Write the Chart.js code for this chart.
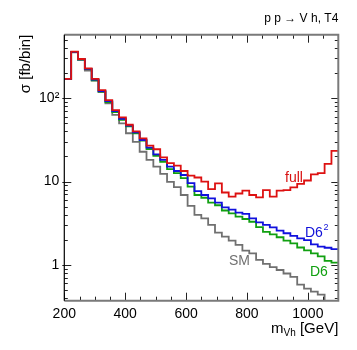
<!DOCTYPE html>
<html>
<head>
<meta charset="utf-8">
<script src="https://cdn.jsdelivr.net/npm/chart.js@4.4.1/dist/chart.umd.min.js"></script>
<style>
  body { margin: 0; background: #fff; }
  #wrap { width: 357px; height: 350px; }
</style>
</head>
<body>
<div id="wrap"><canvas id="c" width="357" height="350"></canvas></div>
<script>
// ---------- histogram data: m_Vh bins (GeV) and sigma per bin (fb) ----------
const binEdges = [200, 222.5, 245, 267.5, 290, 312.5, 335, 357.5, 380, 402.5,
  425, 447.5, 470, 492.5, 515, 537.5, 560, 582.5, 605, 627.5,
  650, 672.5, 695, 717.5, 740, 762.5, 785, 807.5, 830, 852.5,
  875, 897.5, 920, 942.5, 965, 987.5, 1010, 1032.5, 1055, 1077.5, 1100];

const full = [170, 361, 295, 228, 170, 125, 95, 72, 59, 48,
  40, 33, 27, 24.4, 19.5, 16.6, 15.5, 13.4, 11.8, 11.2,
  10, 8.1, 9.5, 7.4, 6.6, 7.2, 7.8, 6.9, 6.45, 7.9,
  6.6, 7.8, 7.9, 8.5, 9.4, 10.3, 12.2, 12.6, 16.3, 23.3];

const d6sq = [170, 360, 293, 225, 167, 122, 92, 70, 56.5, 46.8,
  39, 31.5, 25.5, 21.2, 18.2, 15.1, 13.4, 12, 9.6, 7.7,
  6.9, 6.3, 5.6, 4.9, 4.6, 4.24, 4.1, 3.63, 3.25, 3.03,
  2.83, 2.58, 2.40, 2.23, 2.09, 1.99, 1.77, 1.66, 1.61, 1.55];

const d6 = [170, 359, 291, 223, 164, 120, 90, 68, 55, 46,
  38, 31, 24.6, 20.4, 17.3, 14.1, 12.6, 11, 8.7, 6.9,
  6.4, 5.6, 5.2, 4.5, 4.16, 3.8, 3.56, 3.3, 2.85, 2.49,
  2.33, 2.15, 1.96, 1.82, 1.62, 1.50, 1.38, 1.27, 1.12, 1.07];

const sm = [170, 355, 288, 214, 162, 118, 87, 63, 50, 38,
  30, 22.8, 18.2, 15.1, 12.4, 9.9, 8.6, 6.9, 5.1, 3.98,
  3.63, 3.02, 2.44, 2.19, 1.96, 1.74, 1.49, 1.38, 1.15, 1.03,
  0.94, 0.87, 0.79, 0.72, 0.58, 0.52, 0.48, 0.44, 0.33, 0.3];

// ---------- ticks ----------
const xMajorTicks = [200, 400, 600, 800, 1000];
const xMinorTicks = [250, 300, 350, 450, 500, 550, 650, 700, 750, 850, 900, 950, 1050];
const yMajorTicks = [1, 10, 100];
const yMinorTicks = [0.4, 0.5, 0.6, 0.7, 0.8, 0.9, 2, 3, 4, 5, 6, 7, 8, 9,
  20, 30, 40, 50, 60, 70, 80, 90, 200, 300, 400, 500];

const FONT = '"Liberation Sans", Arial, Helvetica, sans-serif';

// histogram -> step points (last value repeated at the upper edge)
function steps(vals) {
  return binEdges.map((x, i) => ({ x, y: vals[Math.min(i, vals.length - 1)] }));
}

function ds(label, vals, color) {
  return {
    label, data: steps(vals), stepped: 'before',
    borderColor: color, borderWidth: 1.8, pointRadius: 0, fill: false,
  };
}

// ---- frame, inward ticks and all free text ----
const decor = {
  id: 'decor',
  afterDatasetsDraw(chart) {
    const { ctx, chartArea: a, scales: { x, y } } = chart;
    ctx.save();
    ctx.strokeStyle = '#222';
    ctx.lineWidth = 1;
    const vx = (v, len) => {
      const p = Math.round(x.getPixelForValue(v)) + 0.5;
      ctx.beginPath();
      ctx.moveTo(p, a.bottom); ctx.lineTo(p, a.bottom - len);
      ctx.moveTo(p, a.top); ctx.lineTo(p, a.top + len);
      ctx.stroke();
    };
    const vy = (v, len, out) => {
      const p = Math.round(y.getPixelForValue(v)) + 0.5;
      ctx.beginPath();
      ctx.moveTo(a.left - out, p); ctx.lineTo(a.left + len, p);
      ctx.moveTo(a.right, p); ctx.lineTo(a.right - len, p);
      ctx.stroke();
    };
    xMajorTicks.forEach(v => vx(v, 8));
    xMinorTicks.forEach(v => vx(v, 4));
    yMajorTicks.forEach(v => vy(v, 7, 2));
    yMinorTicks.forEach(v => vy(v, 3.5, 0));

    // box
    ctx.strokeStyle = '#7a7a7a';
    ctx.lineWidth = 2;
    ctx.beginPath();
    ctx.moveTo(a.left, a.top); ctx.lineTo(a.right, a.top);
    ctx.lineTo(a.right, a.bottom); ctx.lineTo(a.left, a.bottom);
    ctx.stroke();
    ctx.strokeStyle = '#000';
    ctx.lineWidth = 1.2;
    ctx.beginPath();
    ctx.moveTo(a.left, a.top); ctx.lineTo(a.left, a.bottom);
    ctx.stroke();
    ctx.restore();
  },
  afterDraw(chart) {
    const { ctx, chartArea: a } = chart;
    ctx.save();
    ctx.textBaseline = 'alphabetic';

    // title
    ctx.fillStyle = '#000';
    ctx.font = '12px ' + FONT;
    ctx.textAlign = 'right';
    ctx.fillText('p p \u2192 V h, T4', a.right, 22);

    // y title
    ctx.font = '15px ' + FONT;
    ctx.save();
    ctx.translate(30, a.top);
    ctx.rotate(-Math.PI / 2);
    ctx.textAlign = 'right';
    ctx.fillText('\u03c3 [fb/bin]', 0, 0);
    ctx.restore();

    // x title  m_Vh [GeV]
    ctx.textAlign = 'left';
    const big = '15px ' + FONT, small = '10px ' + FONT;
    ctx.font = big;  const wm = ctx.measureText('m').width;
    const wg = ctx.measureText(' [GeV]').width;
    ctx.font = small; const ws = ctx.measureText('Vh').width;
    let x0 = a.right - wm - ws - wg, yb = 333;
    ctx.font = big;   ctx.fillText('m', x0, yb);
    ctx.font = small; ctx.fillText('Vh', x0 + wm, yb + 3);
    ctx.font = big;   ctx.fillText(' [GeV]', x0 + wm + ws, yb);

    // curve labels
    ctx.font = '14px ' + FONT;
    ctx.fillStyle = '#d81010';
    ctx.fillText('full', 285, 181.5);
    ctx.fillStyle = '#1010d8';
    ctx.fillText('D6', 305, 237);
    const wd = ctx.measureText('D6').width;
    ctx.font = '9px ' + FONT;
    ctx.fillText('2', 305 + wd + 0.5, 230);
    ctx.font = '14px ' + FONT;
    ctx.fillStyle = '#10a010';
    ctx.fillText('D6', 310, 276);
    ctx.fillStyle = '#707070';
    ctx.fillText('SM', 229, 265);
    ctx.restore();
  }
};

new Chart(document.getElementById('c'), {
  type: 'line',
  data: {
    datasets: [
      ds('full', full, '#dd1111'),
      ds('D6^2', d6sq, '#1111dd'),
      ds('D6', d6, '#11a011'),
      ds('SM', sm, '#707070'),
    ]
  },
  options: {
    responsive: false,
    animation: false,
    events: [],
    layout: { padding: { top: 34.7, right: 18.7, left: 0, bottom: 0 } },
    plugins: { legend: { display: false }, tooltip: { enabled: false } },
    scales: {
      x: {
        type: 'linear', min: 200, max: 1100,
        afterBuildTicks: s => { s.ticks = xMajorTicks.map(v => ({ value: v })); },
        afterFit: s => { s.height = 49.3; },
        grid: { display: false, drawTicks: false },
        border: { display: false },
        ticks: {
          color: '#000', font: { size: 14, family: FONT }, padding: 5, maxRotation: 0,
          callback: v => String(v)
        }
      },
      y: {
        type: 'logarithmic', min: 0.373, max: 577,
        afterBuildTicks: s => { s.ticks = yMajorTicks.map(v => ({ value: v })); },
        afterFit: s => { s.width = 64.3; },
        grid: { display: false, drawTicks: false },
        border: { display: false },
        ticks: {
          color: '#000', font: { size: 14, family: FONT }, padding: 5,
          callback: v => v === 100 ? '10\u00b2' : String(v)
        }
      }
    }
  },
  plugins: [decor]
});
</script>
</body>
</html>
